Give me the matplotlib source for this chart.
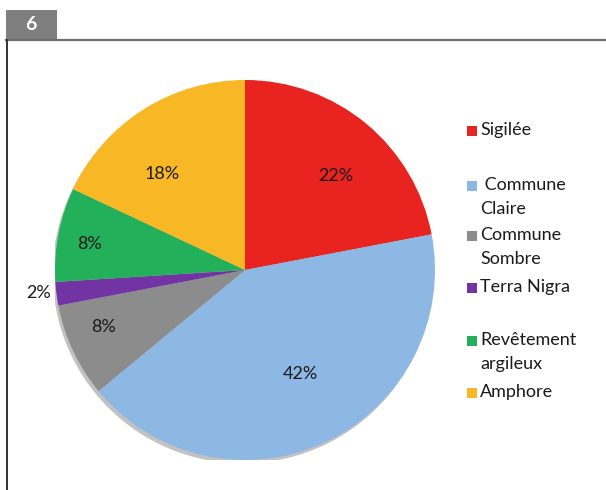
import matplotlib
matplotlib.use("Agg")
import matplotlib.pyplot as plt
import matplotlib.patches as mpatches
import numpy as np

categories = ["Sigilée", " Commune\nClaire", "Commune\nSombre", "Terra Nigra",
              "Revêtement\nargileux", "Amphore"]
values = [22, 42, 8, 2, 8, 18]
pct_labels = ["22%", "42%", "8%", "2%", "8%", "18%"]
colors = ["#E92320", "#8DB8E4", "#8C8C8C", "#7134A2", "#22B15A", "#F8B826"]

plt.rcParams['font.family'] = ['Lato', 'DejaVu Sans']

W, H = 606, 490
fig = plt.figure(figsize=(W / 100, H / 100), dpi=100)

def fx(x):
    return x / W

def fy(y):
    return 1 - y / H

# header tab and borders
fig.patches.append(mpatches.Rectangle((fx(6), fy(39)), fx(57) - fx(6), fy(10) - fy(39),
                                      transform=fig.transFigure, facecolor="#7F7F7F",
                                      edgecolor="none"))
fig.text(fx(31), fy(25), "6", color="white", fontsize=14, fontweight="bold",
         ha="center", va="center")
fig.add_artist(plt.Line2D([fx(6), fx(606)], [fy(40), fy(40)], color="#6E6E6E", lw=1.6,
                          transform=fig.transFigure))
fig.add_artist(plt.Line2D([fx(6.5), fx(6.5)], [fy(40), fy(490)], color="#333333", lw=1.4,
                          transform=fig.transFigure))

# pie axes: center (245,270), radius 190
cx, cy, r = 245, 270, 190
ax = fig.add_axes([fx(cx - r), fy(cy + r), 2 * r / W, 2 * r / H])

# subtle shadow
shadow = mpatches.Circle((-0.012, -0.018), 1.0, facecolor="#9a9a9a", edgecolor="none",
                         alpha=0.6, zorder=0)
ax.add_patch(shadow)

wedges, _ = ax.pie(values, colors=colors, startangle=90, counterclock=False,
                   radius=1.0, wedgeprops=dict(linewidth=0))
for w in wedges:
    w.set_zorder(1)
ax.set_xlim(-1, 1)
ax.set_ylim(-1, 1)
ax.set_aspect("equal")
ax.axis("off")

# label positions (radius units, relative to pie centre)
label_pos = [(0.479, 0.495), (0.289, -0.547), (-0.747, -0.299),
             (-1.089, -0.121), (-0.821, 0.137), (-0.437, 0.506)]
for lab, (lx, ly) in zip(pct_labels, label_pos):
    ax.text(lx, ly, lab, ha="center", va="center",
            fontsize=13, color="#1a1a1a", zorder=3, clip_on=False)

# legend (manual)
legend_y = [131, 186, 236, 288, 341, 393]
for cat, col, y in zip(categories, colors, legend_y):
    fig.patches.append(mpatches.Rectangle((fx(467), fy(y + 5)), fx(10), fy(0) - fy(10),
                                          transform=fig.transFigure, facecolor=col,
                                          edgecolor="none"))
    fig.text(fx(480), fy(y - 9), cat, fontsize=13, color="#1a1a1a", ha="left",
             va="top", linespacing=1.6)

fig.savefig("out.png", dpi=100)
